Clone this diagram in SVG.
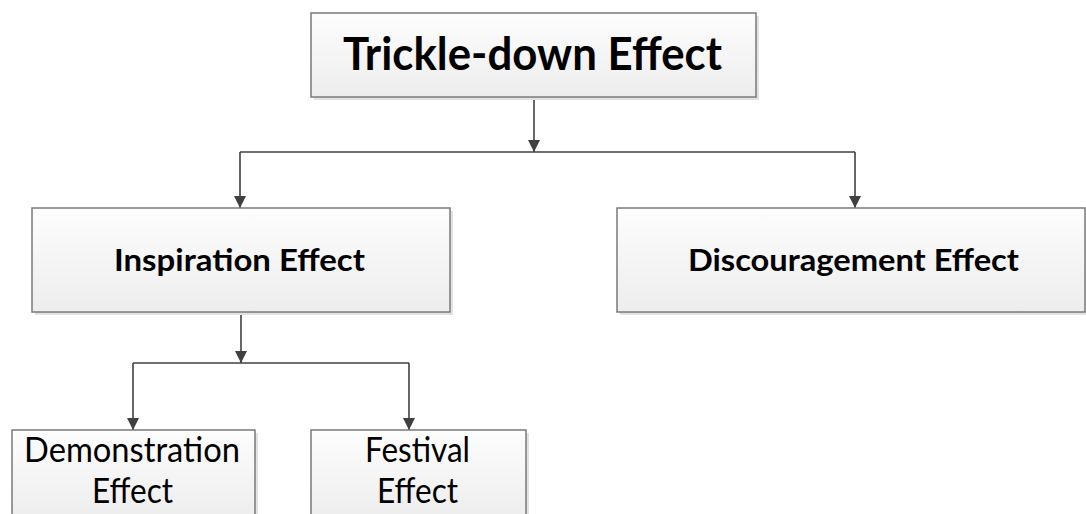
<svg xmlns="http://www.w3.org/2000/svg" width="1086" height="514" viewBox="0 0 1086 514">
<defs>
<linearGradient id="g" x1="0" y1="0" x2="0" y2="1">
<stop offset="0" stop-color="#fdfdfd"/>
<stop offset="1" stop-color="#ededed"/>
</linearGradient>
<marker id="arr" viewBox="0 0 12 12" refX="12" refY="6" markerWidth="12" markerHeight="12" markerUnits="userSpaceOnUse" orient="auto">
<path d="M0,0 L12,6 L0,12 z" fill="#404040"/>
</marker>
<style>
.box{fill:url(#g);stroke:#7a7a7a;stroke-width:1.5}
.sh{fill:#e2e2e2}
.b{font-family:Lato,"Open Sans",sans-serif;font-weight:bold;fill:#000;text-anchor:middle}
.r{font-family:Lato,"Open Sans",sans-serif;fill:#000;text-anchor:middle}
.c{fill:none;stroke:#404040;stroke-width:1.6}
</style>
</defs>
<rect width="1086" height="514" fill="#fff"/>
<g id="connectors">
<path class="c" d="M534,97 V152" marker-end="url(#arr)"/>
<path class="c" d="M240,152 H855"/>
<path class="c" d="M240,152 V208" marker-end="url(#arr)"/>
<path class="c" d="M855,152 V208" marker-end="url(#arr)"/>
<path class="c" d="M241,312 V363" marker-end="url(#arr)"/>
<path class="c" d="M133,363 H409"/>
<path class="c" d="M133,363 V430" marker-end="url(#arr)"/>
<path class="c" d="M409,363 V430" marker-end="url(#arr)"/>
</g>
<g id="trickle">
<rect class="sh" x="314" y="16" width="445" height="84"/>
<rect class="box" x="311" y="13" width="445" height="84"/>
<text class="b" x="532.5" y="70" font-size="45" textLength="379" lengthAdjust="spacingAndGlyphs">Trickle-down Effect</text>
</g>
<g id="inspiration">
<rect class="sh" x="35" y="211" width="418" height="104"/>
<rect class="box" x="32" y="208" width="418" height="104"/>
<text class="b" x="239.5" y="271" font-size="29.5" textLength="251" lengthAdjust="spacingAndGlyphs">Inspiration Effect</text>
</g>
<g id="discouragement">
<rect class="sh" x="620" y="211" width="468" height="104"/>
<rect class="box" x="617" y="208" width="468" height="104"/>
<text class="b" x="853.5" y="271" font-size="29.5" textLength="331" lengthAdjust="spacingAndGlyphs">Discouragement Effect</text>
</g>
<g id="demonstration">
<rect class="sh" x="15" y="433" width="243" height="90"/>
<rect class="box" x="12" y="430" width="243" height="90"/>
<text class="r" x="132" y="462" font-size="34.5" textLength="216" lengthAdjust="spacingAndGlyphs">Demonstration</text>
<text class="r" x="132.5" y="503" font-size="34.5" textLength="81" lengthAdjust="spacingAndGlyphs">Effect</text>
</g>
<g id="festival">
<rect class="sh" x="314" y="433" width="215" height="90"/>
<rect class="box" x="311" y="430" width="215" height="90"/>
<text class="r" x="417.5" y="462" font-size="34.5" textLength="105" lengthAdjust="spacingAndGlyphs">Festival</text>
<text class="r" x="417.5" y="503" font-size="34.5" textLength="81" lengthAdjust="spacingAndGlyphs">Effect</text>
</g>
</svg>
